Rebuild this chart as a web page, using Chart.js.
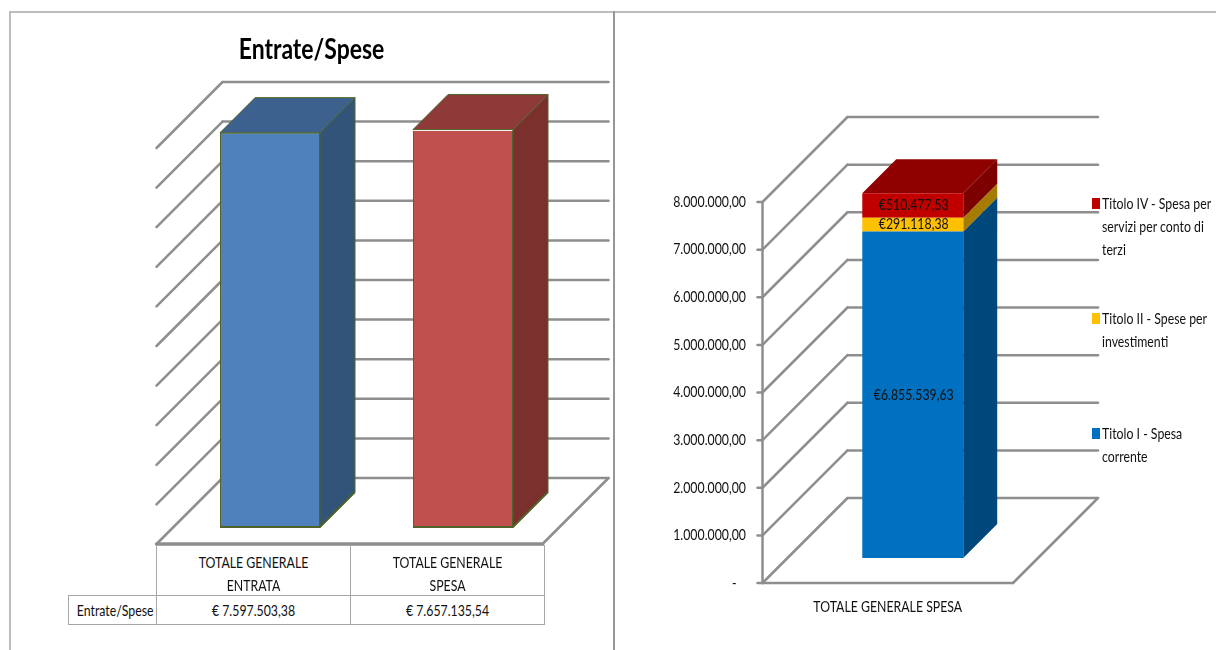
<!DOCTYPE html>
<html>
<head>
<meta charset="utf-8">
<script src="https://cdn.jsdelivr.net/npm/chart.js@4/dist/chart.umd.min.js"></script>
<style>
    html, body { margin: 0; padding: 0; background: #fff; }
    body { position: relative; width: 1216px; height: 650px; overflow: hidden;
           font-family: Lato, 'Open Sans', sans-serif; color: #111; }
    canvas { position: absolute; top: 0; }
    #leftChart { left: 9px; }
    #rightChart { left: 615px; }
    .frame { position: absolute; background: #bdbdbd; }
    /* il font originale e' piu' stretto: comprimo il testo in orizzontale */
    .narrow { display: block; transform: scaleX(0.82); transform-origin: center; white-space: nowrap; }
    #chartTitle { position: absolute; left: 9px; top: 30px; width: 605px; text-align: center;
                  font-size: 28px; line-height: 36px; font-weight: bold; color: #000; z-index: 2; }
    .cell { position: absolute; box-sizing: border-box; border: 1px solid #a6a6a6; background: #fff;
            font-size: 15px; line-height: 23px; text-align: center; }
    .legend-item { position: absolute; left: 1102px; font-size: 15px; line-height: 23px; white-space: nowrap; }
    .legend-item .narrow { transform-origin: left; }
    .legend-item i { position: absolute; left: -10.5px; top: 6px; width: 8px; height: 11px; }
</style>
</head>
<body>
<div class="frame" style="left:9px;top:11px;width:1207px;height:2px"></div>
<div class="frame" style="left:9px;top:11px;width:2px;height:639px"></div>
<div class="frame" style="left:613px;top:11px;width:2px;height:639px;background:#969696"></div>
<canvas id="leftChart" width="605" height="650"></canvas>
<canvas id="rightChart" width="601" height="650"></canvas>
<div id="chartTitle"></div>
<div id="dataTable"></div>
<div id="legendBox"></div>
<script>
// Dati
const totalCategories = ['TOTALE GENERALE ENTRATA', 'TOTALE GENERALE SPESA'];
const totalHeaderLines = [['TOTALE GENERALE', 'ENTRATA'], ['TOTALE GENERALE', 'SPESA']];
const totalValues = [7597503.38, 7657135.54];
const totalLabels = ['€ 7.597.503,38', '€ 7.657.135,54'];
const totalSeriesName = 'Entrate/Spese';

const spesaCategories = ['TOTALE GENERALE SPESA'];
const titoloNames = ['Titolo I - Spesa corrente', 'Titolo II - Spese per investimenti', 'Titolo IV - Spesa per servizi per conto di terzi'];
const titolo1 = [6855539.63];
const titolo2 = [291118.38];
const titolo4 = [510477.53];
const titoloLabels = ['€6.855.539,63', '€291.118,38', '€510.477,53'];
const spesaTicks = ['-   ', '1.000.000,00', '2.000.000,00', '3.000.000,00', '4.000.000,00', '5.000.000,00', '6.000.000,00', '7.000.000,00', '8.000.000,00'];

const legendLines = [
    ['Titolo IV - Spesa per', 'servizi per conto di', 'terzi'],
    ['Titolo II - Spese per', 'investimenti'],
    ['Titolo I - Spesa', 'corrente']
];

const FONT = "Lato, 'Open Sans', sans-serif";
const GRID = '#8e8e8e';
const NARROW = 0.82;

// Testo compresso in orizzontale su canvas
function narrowText(ctx, text, x, y, align) {
    ctx.save();
    ctx.font = '15px ' + FONT;
    ctx.fillStyle = '#111';
    ctx.textAlign = align;
    ctx.textBaseline = 'middle';
    ctx.translate(x, y);
    ctx.scale(NARROW, 1);
    ctx.fillText(text, 0, 0);
    ctx.restore();
}

// Disegna pareti, griglia e facce laterali: il grafico vero sta sul piano frontale delle barre
const box3d = {
    id: 'box3d',
    beforeDatasetsDraw(chart, args, opts) {
        const { ctx, chartArea: a, scales: { y } } = chart;
        const f = opts.front, b = opts.back;
        ctx.save();
        ctx.strokeStyle = GRID;
        ctx.lineWidth = opts.gridWidth;
        ctx.lineCap = 'round';
        const line = (x1, y1, x2, y2) => {
            ctx.beginPath();
            ctx.moveTo(x1, y1);
            ctx.lineTo(x2, y2);
            ctx.stroke();
        };
        const left = a.left - f, right = a.right - f;
        y.ticks.forEach(t => {
            const py = y.getPixelForValue(t.value);
            line(left, py + f, left + f + b, py - b);
            line(left + f + b, py - b, right + f + b, py - b);
        });
        // pavimento
        const base = y.getPixelForValue(0);
        ctx.lineWidth = opts.floorWidth;
        line(left, base + f, right, base + f);
        ctx.lineWidth = opts.gridWidth;
        line(right, base + f, right + f + b, base - b);
        // asse verticale con tacche ed etichette
        if (opts.axis) {
            const top = y.getPixelForValue(y.max);
            line(left, top + f, left, base + f);
            y.ticks.forEach((t, i) => {
                const py = y.getPixelForValue(t.value) + f;
                line(left - 5, py, left, py);
                narrowText(ctx, spesaTicks[i], left - 16.5, py, 'right');
            });
            chart.data.labels.forEach((label, i) => {
                narrowText(ctx, label, chart.scales.x.getPixelForTick(i) - f, base + f + 24, 'center');
            });
        }
        ctx.restore();

        // facce laterali e superiori
        const d = opts.depth;
        const last = chart.data.datasets.length - 1;
        chart.data.datasets.forEach((ds, i) => {
            chart.getDatasetMeta(i).data.forEach((bar, j) => {
                const r = bar.x + bar.width / 2, l = bar.x - bar.width / 2;
                const side = Array.isArray(ds.sideColor) ? ds.sideColor[j] : ds.sideColor;
                const topC = Array.isArray(ds.topColor) ? ds.topColor[j] : ds.topColor;
                ctx.save();
                ctx.lineWidth = ds.borderWidth || 0;
                ctx.strokeStyle = ds.borderColor || side;
                const face = (pts, color) => {
                    ctx.fillStyle = color;
                    ctx.beginPath();
                    pts.forEach((p, k) => k ? ctx.lineTo(p[0], p[1]) : ctx.moveTo(p[0], p[1]));
                    ctx.closePath();
                    ctx.fill();
                    if (ds.borderWidth) ctx.stroke();
                };
                face([[r, bar.base], [r + d, bar.base - d], [r + d, bar.y - d], [r, bar.y]], side);
                if (i === last) face([[l, bar.y], [l + d, bar.y - d], [r + d, bar.y - d], [r, bar.y]], topC);
                ctx.restore();
            });
        });
    },
    afterDatasetsDraw(chart, args, opts) {
        const { ctx } = chart;
        ctx.save();
        // bordo inferiore piu' spesso nel grafico di sinistra
        if (opts.baseLine) {
            const d = opts.depth;
            ctx.strokeStyle = opts.baseLine;
            ctx.lineWidth = 2;
            chart.data.datasets.forEach((ds, i) => {
                chart.getDatasetMeta(i).data.forEach(bar => {
                    const r = bar.x + bar.width / 2, l = bar.x - bar.width / 2;
                    ctx.beginPath();
                    ctx.moveTo(l, bar.base);
                    ctx.lineTo(r, bar.base);
                    ctx.lineTo(r + d, bar.base - d);
                    ctx.stroke();
                });
            });
        }
        // etichette dati
        if (opts.labels) {
            chart.data.datasets.forEach((ds, i) => {
                chart.getDatasetMeta(i).data.forEach(bar => {
                    narrowText(ctx, opts.labels[i], bar.x + 1, (bar.y + bar.base) / 2, 'center');
                });
            });
        }
        ctx.restore();
    }
};

new Chart(document.getElementById('leftChart'), {
    type: 'bar',
    plugins: [box3d],
    data: {
        labels: totalCategories,
        datasets: [{
            label: totalSeriesName,
            data: totalValues,
            backgroundColor: ['#4f81bd', '#c0504d'],
            sideColor: ['#335479', '#7b302e'],
            topColor: ['#3d618e', '#8e3a38'],
            borderColor: '#4f6228',
            borderWidth: 1,
            barPercentage: 0.518,
            categoryPercentage: 1
        }]
    },
    options: {
        responsive: false,
        animation: false,
        layout: { padding: { top: 131, left: 164.5, right: 54.5, bottom: 123 } },
        scales: {
            x: { display: false },
            y: { display: false, min: 0, max: 7630000, ticks: { stepSize: 763000 } }
        },
        plugins: {
            legend: { display: false },
            tooltip: { enabled: false },
            box3d: { front: 17, back: 49, depth: 35, gridWidth: 2.5, floorWidth: 3.5, axis: false, baseLine: '#4f6228' }
        }
    }
});

new Chart(document.getElementById('rightChart'), {
    type: 'bar',
    plugins: [box3d],
    data: {
        labels: spesaCategories,
        datasets: [
            { label: titoloNames[0], data: titolo1, backgroundColor: '#0070c0', sideColor: '#00487c', topColor: '#00487c', barPercentage: 0.403, categoryPercentage: 1 },
            { label: titoloNames[1], data: titolo2, backgroundColor: '#ffc000', sideColor: '#a67c00', topColor: '#a67c00', barPercentage: 0.403, categoryPercentage: 1 },
            { label: titoloNames[2], data: titolo4, backgroundColor: '#c00000', sideColor: '#7c0000', topColor: '#8f0000', barPercentage: 0.403, categoryPercentage: 1 }
        ]
    },
    options: {
        responsive: false,
        animation: false,
        layout: { padding: { top: 177, right: 178 } },
        scales: {
            x: {
                stacked: true,
                grid: { display: false },
                border: { display: false },
                ticks: { display: false },
                afterFit(s) { s.height = 92; }
            },
            y: {
                stacked: true,
                min: 0,
                max: 8000000,
                grid: { display: false },
                border: { display: false },
                ticks: { display: false, stepSize: 1000000 },
                afterFit(s) { s.width = 172.5; }
            }
        },
        plugins: {
            legend: { display: false },
            tooltip: { enabled: false },
            box3d: { front: 25, back: 60, depth: 34, gridWidth: 2.5, floorWidth: 2.5, axis: true, labels: titoloLabels }
        }
    }
});

const narrowHtml = lines => lines.map(s => `<span class="narrow">${s}</span>`).join('');

document.getElementById('chartTitle').innerHTML = narrowHtml([totalSeriesName]);

// Tabella dati sotto il grafico di sinistra
const tableBox = document.getElementById('dataTable');
function addCell(x, y, w, h, lines, pad) {
    const c = document.createElement('div');
    c.className = 'cell';
    c.style.cssText = `left:${x}px;top:${y}px;width:${w}px;height:${h}px;padding-top:${pad}px`;
    c.innerHTML = narrowHtml(lines);
    tableBox.appendChild(c);
}
addCell(156, 545, 195, 51, totalHeaderLines[0], 5);
addCell(350, 545, 195, 51, totalHeaderLines[1], 5);
addCell(68, 595, 89, 30, [totalSeriesName], 3);
addCell(156, 595, 195, 30, [totalLabels[0]], 3);
addCell(350, 595, 195, 30, [totalLabels[1]], 3);

// Legenda di destra
const legendTops = [192, 307, 422];
const legendColors = ['#c00000', '#ffc000', '#0070c0'];
const legendBox = document.getElementById('legendBox');
legendLines.forEach((lines, i) => {
    const item = document.createElement('div');
    item.className = 'legend-item';
    item.style.top = legendTops[i] + 'px';
    item.innerHTML = `<i style="background:${legendColors[i]}"></i>` + narrowHtml(lines);
    legendBox.appendChild(item);
});
</script>
</body>
</html>
